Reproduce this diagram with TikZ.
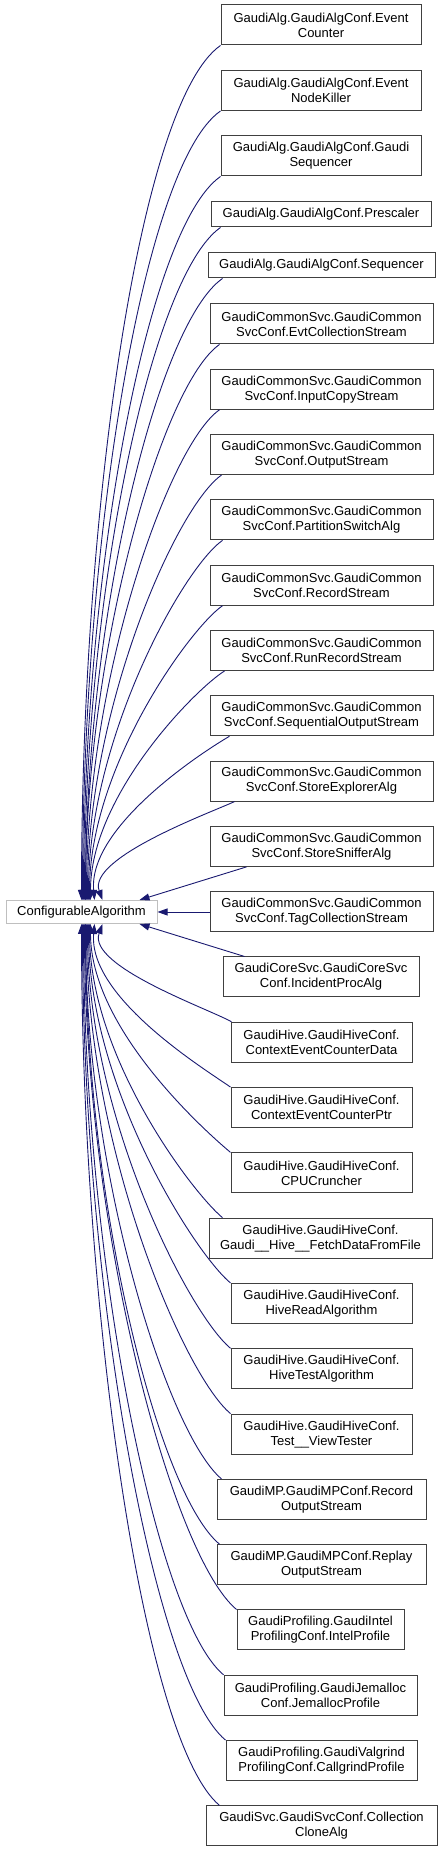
\documentclass[tikz,border=0pt]{standalone}
\usepackage{fontspec}
\setmainfont{Liberation Sans}
\usetikzlibrary{arrows.meta}
\definecolor{edgeblue}{RGB}{25,25,112}
\definecolor{boxgray}{RGB}{64,64,64}
\definecolor{basegray}{RGB}{191,191,191}

\begin{document}
\begin{tikzpicture}[x=1pt, y=1pt,
    cls/.style={draw=boxgray, line width=1pt, fill=white, inner sep=0pt, align=center,
        minimum height=40pt, font=\fontsize{13}{15}\selectfont},
    base/.style={cls, draw=basegray, minimum height=23pt},
    edge/.style={draw=edgeblue, line width=0.9pt, -{Triangle[length=10pt, width=7pt]}}]
    \useasboundingbox (0,0) rectangle (443,1852);
    % base class
    \node[base, minimum width=151pt] (cfg) at (81.5,940) {ConfigurableAlgorithm};
    % GaudiAlg
    \node[cls, minimum width=200pt] (evtcounter) at (321,1827) {GaudiAlg.GaudiAlgConf.Event\\Counter};
    \node[cls, minimum width=200pt] (nodekiller) at (321,1761.5) {GaudiAlg.GaudiAlgConf.Event\\NodeKiller};
    \node[cls, minimum width=200pt] (gaudiseq) at (321,1696) {GaudiAlg.GaudiAlgConf.Gaudi\\Sequencer};
    \node[cls, minimum width=220pt, minimum height=25pt] (prescaler) at (321,1637.5) {GaudiAlg.GaudiAlgConf.Prescaler};
    \node[cls, minimum width=227pt, minimum height=25pt] (sequencer) at (321.5,1586.5) {GaudiAlg.GaudiAlgConf.Sequencer};
    % GaudiCommonSvc
    \node[cls, minimum width=223pt] (evtcoll) at (321.5,1528) {GaudiCommonSvc.GaudiCommon\\SvcConf.EvtCollectionStream};
    \node[cls, minimum width=223pt] (inputcopy) at (321.5,1462.7) {GaudiCommonSvc.GaudiCommon\\SvcConf.InputCopyStream};
    \node[cls, minimum width=223pt] (outstream) at (321.5,1397.4) {GaudiCommonSvc.GaudiCommon\\SvcConf.OutputStream};
    \node[cls, minimum width=223pt] (partswitch) at (321.5,1332.1) {GaudiCommonSvc.GaudiCommon\\SvcConf.PartitionSwitchAlg};
    \node[cls, minimum width=223pt] (recstream) at (321.5,1266.8) {GaudiCommonSvc.GaudiCommon\\SvcConf.RecordStream};
    \node[cls, minimum width=223pt] (runrec) at (321.5,1201.5) {GaudiCommonSvc.GaudiCommon\\SvcConf.RunRecordStream};
    \node[cls, minimum width=223pt] (seqout) at (321.5,1136.2) {GaudiCommonSvc.GaudiCommon\\SvcConf.SequentialOutputStream};
    \node[cls, minimum width=223pt] (storeexp) at (321.5,1070.9) {GaudiCommonSvc.GaudiCommon\\SvcConf.StoreExplorerAlg};
    \node[cls, minimum width=223pt] (storesniff) at (321.5,1005.6) {GaudiCommonSvc.GaudiCommon\\SvcConf.StoreSnifferAlg};
    \node[cls, minimum width=223pt] (tagcoll) at (321.5,940) {GaudiCommonSvc.GaudiCommon\\SvcConf.TagCollectionStream};
    % GaudiCoreSvc
    \node[cls, minimum width=196pt] (incproc) at (321,875) {GaudiCoreSvc.GaudiCoreSvc\\Conf.IncidentProcAlg};
    % GaudiHive
    \node[cls, minimum width=181pt] (ctxdata) at (321.5,809.7) {GaudiHive.GaudiHiveConf.\\ContextEventCounterData};
    \node[cls, minimum width=181pt] (ctxptr) at (321.5,744.4) {GaudiHive.GaudiHiveConf.\\ContextEventCounterPtr};
    \node[cls, minimum width=181pt] (cpucrunch) at (321.5,679.1) {GaudiHive.GaudiHiveConf.\\CPUCruncher};
    \node[cls, minimum width=223pt] (fetchdata) at (320.5,613.8) {GaudiHive.GaudiHiveConf.\\Gaudi\_\_Hive\_\_FetchDataFromFile};
    \node[cls, minimum width=181pt] (hiveread) at (321.5,548.5) {GaudiHive.GaudiHiveConf.\\HiveReadAlgorithm};
    \node[cls, minimum width=181pt] (hivetest) at (321.5,483.2) {GaudiHive.GaudiHiveConf.\\HiveTestAlgorithm};
    \node[cls, minimum width=181pt] (viewtester) at (321.5,417.9) {GaudiHive.GaudiHiveConf.\\Test\_\_ViewTester};
    % GaudiMP
    \node[cls, minimum width=209pt] (mprecord) at (321.5,352.6) {GaudiMP.GaudiMPConf.Record\\OutputStream};
    \node[cls, minimum width=209pt] (mpreplay) at (321.5,287.3) {GaudiMP.GaudiMPConf.Replay\\OutputStream};
    % GaudiProfiling
    \node[cls, minimum width=167pt] (intelprof) at (320.5,222) {GaudiProfiling.GaudiIntel\\ProfilingConf.IntelProfile};
    \node[cls, minimum width=193pt] (jemalloc) at (320.5,156.7) {GaudiProfiling.GaudiJemalloc\\Conf.JemallocProfile};
    \node[cls, minimum width=191pt] (callgrind) at (321.5,91.4) {GaudiProfiling.GaudiValgrind\\ProfilingConf.CallgrindProfile};
    % GaudiSvc
    \node[cls, minimum width=231pt] (clonealg) at (321.5,26.1) {GaudiSvc.GaudiSvcConf.Collection\\CloneAlg};
    % edges from the upper boxes
    \draw[edge] (evtcounter.south west) to[out=215, in=90, out distance=100pt, in distance=385pt] ([xshift=76pt]cfg.north west);
    \draw[edge] (nodekiller.south west) to[out=215, in=90, out distance=95pt, in distance=356pt] ([xshift=77pt]cfg.north west);
    \draw[edge] (gaudiseq.south west) to[out=215, in=90, out distance=90pt, in distance=326pt] ([xshift=78pt]cfg.north west);
    \draw[edge] ([xshift=10pt]prescaler.south west) to[out=215, in=90, out distance=85pt, in distance=303pt] ([xshift=79pt]cfg.north west);
    \draw[edge] ([xshift=15pt]sequencer.south west) to[out=215, in=90, out distance=80pt, in distance=280pt] ([xshift=80pt]cfg.north west);
    \draw[edge] ([xshift=10pt]evtcoll.south west) to[out=215, in=90, out distance=70pt, in distance=250pt] ([xshift=80pt]cfg.north west);
    \draw[edge] ([xshift=10pt]inputcopy.south west) to[out=215, in=90, out distance=62pt, in distance=221pt] ([xshift=81pt]cfg.north west);
    \draw[edge] ([xshift=12pt]outstream.south west) to[out=215, in=90, out distance=55pt, in distance=192pt] ([xshift=82pt]cfg.north west);
    \draw[edge] ([xshift=13pt]partswitch.south west) to[out=215, in=90, out distance=48pt, in distance=162pt] ([xshift=83pt]cfg.north west);
    \draw[edge] ([xshift=13pt]recstream.south west) to[out=215, in=90, out distance=40pt, in distance=133pt] ([xshift=84pt]cfg.north west);
    \draw[edge] ([xshift=15pt]runrec.south west) to[out=212, in=90, out distance=35pt, in distance=104pt] ([xshift=85pt]cfg.north west);
    \draw[edge] ([xshift=20pt]seqout.south west) to[out=210, in=95, out distance=30pt, in distance=74pt] ([xshift=89pt]cfg.north west);
    \draw[edge] ([xshift=25pt]storeexp.south west) to[out=205, in=110, out distance=25pt, in distance=45pt] ([xshift=97pt]cfg.north west);
    \draw[edge] ([xshift=37pt]storesniff.south west) -- ([xshift=134pt]cfg.north west);
    % straight edge
    \draw[edge] (tagcoll.west) -- (cfg.east);
    % edges from the lower boxes
    \draw[edge] ([xshift=22pt]incproc.north west) -- ([xshift=134pt]cfg.south west);
    \draw[edge] ([xshift=1pt]ctxdata.north west) to[out=150, in=250, out distance=25pt, in distance=45pt] ([xshift=97pt]cfg.south west);
    \draw[edge] (ctxptr.north west) to[out=145, in=265, out distance=30pt, in distance=74pt] ([xshift=89pt]cfg.south west);
    \draw[edge] (cpucrunch.north west) to[out=140, in=270, out distance=35pt, in distance=104pt] ([xshift=85pt]cfg.south west);
    \draw[edge] ([xshift=14pt]fetchdata.north west) to[out=140, in=270, out distance=40pt, in distance=133pt] ([xshift=84pt]cfg.south west);
    \draw[edge] (hiveread.north west) to[out=140, in=270, out distance=48pt, in distance=162pt] ([xshift=83pt]cfg.south west);
    \draw[edge] (hivetest.north west) to[out=140, in=270, out distance=55pt, in distance=192pt] ([xshift=82pt]cfg.south west);
    \draw[edge] (viewtester.north west) to[out=140, in=270, out distance=62pt, in distance=221pt] ([xshift=81pt]cfg.south west);
    \draw[edge] ([xshift=5pt]mprecord.north west) to[out=140, in=270, out distance=70pt, in distance=250pt] ([xshift=80pt]cfg.south west);
    \draw[edge] ([xshift=3pt]mpreplay.north west) to[out=140, in=270, out distance=80pt, in distance=280pt] ([xshift=80pt]cfg.south west);
    \draw[edge] (intelprof.north west) to[out=140, in=270, out distance=85pt, in distance=303pt] ([xshift=79pt]cfg.south west);
    \draw[edge] (jemalloc.north west) to[out=140, in=270, out distance=90pt, in distance=326pt] ([xshift=78pt]cfg.south west);
    \draw[edge] (callgrind.north west) to[out=140, in=270, out distance=95pt, in distance=356pt] ([xshift=77pt]cfg.south west);
    \draw[edge] ([xshift=14pt]clonealg.north west) to[out=140, in=270, out distance=100pt, in distance=385pt] ([xshift=76pt]cfg.south west);
\end{tikzpicture}
\end{document}
